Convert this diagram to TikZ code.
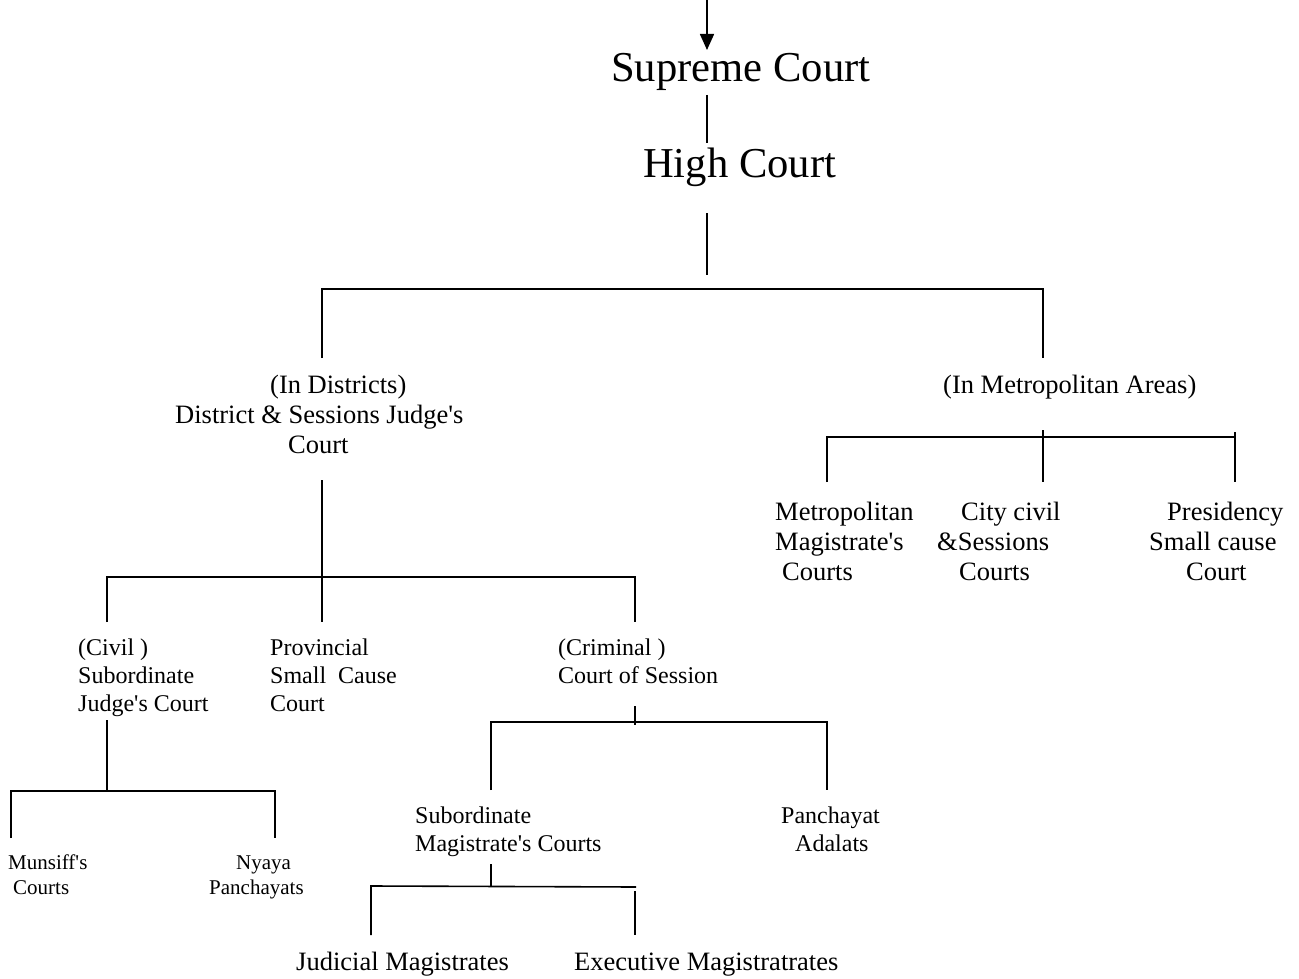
\documentclass[tikz,border=0pt]{standalone}
\usepackage{fontspec}
\setmainfont{Liberation Serif}
\usetikzlibrary{arrows.meta}
\newcommand{\apos}{\textquotesingle}
\begin{document}
\begin{tikzpicture}[x=1pt,y=-1pt,
  conn/.style={line width=1.6pt, line cap=butt},
  lbl/.style={inner sep=0pt, anchor=base west},
  big/.style={lbl, font=\fontsize{42.6}{50}\selectfont},
  txt/.style={lbl, font=\fontsize{26.5}{30}\selectfont},
  mid/.style={lbl, font=\fontsize{24}{28}\selectfont},
  sml/.style={lbl, font=\fontsize{21}{25}\selectfont}]
\useasboundingbox (0,0) rectangle (1299,979);

% ---- texts ----
\node[big] (sc) at (611,82) {Supreme Court};
\node[big] (hc) at (643,178) {High Court};

\node[txt] (d1) at (270,393) {(In Districts)};
\node[txt] (d2) at (175,423) {District \& Sessions Judge\apos s};
\node[txt] (d3) at (288,453) {Court};

\node[txt] (ma) at (943,393) {(In Metropolitan Areas)};

\node[txt] (m1) at (775,520) {Metropolitan};
\node[txt] (m2) at (775,550) {Magistrate\apos s};
\node[txt] (m3) at (782,580) {Courts};

\node[txt] (c1) at (961,520) {City civil};
\node[txt] (c2) at (937,550) {\&Sessions};
\node[txt] (c3) at (959,580) {Courts};

\node[txt] (p1) at (1167,520) {Presidency};
\node[txt] (p2) at (1149,550) {Small cause};
\node[txt] (p3) at (1186,580) {Court};

\node[mid] (s1) at (78,655) {(Civil )};
\node[mid] (s2) at (78,683) {Subordinate};
\node[mid] (s3) at (78,711) {Judge\apos s Court};

\node[mid] (v1) at (270,655) {Provincial};
\node[mid] (v2) at (270,683) {Small\ \ Cause};
\node[mid] (v3) at (270,711) {Court};

\node[mid] (k1) at (558,655) {(Criminal )};
\node[mid] (k2) at (558,683) {Court of Session};

\node[mid] (g1) at (415,823) {Subordinate};
\node[mid] (g2) at (415,851) {Magistrate\apos s Courts};

\node[mid] (a1) at (781,823) {Panchayat};
\node[mid] (a2) at (795,851) {Adalats};

\node[sml] (u1) at (8,869) {Munsiff\apos s};
\node[sml] (u2) at (13,894) {Courts};

\node[sml] (n1) at (236,869) {Nyaya};
\node[sml] (n2) at (209,894) {Panchayats};

\node[txt] (j1) at (296,970) {Judicial Magistrates};
\node[txt] (e1) at (574,970) {Executive Magistratrates};

% ---- connector points ----
\coordinate (a0) at (707,0);
\coordinate (a9) at (707,50);
\coordinate (b0) at (707,95);
\coordinate (b1) at (707,143);
\coordinate (h0) at (707,213);
\coordinate (h1) at (707,275);

\coordinate (tL) at (322,289);
\coordinate (tR) at (1043,289);
\coordinate (tLb) at (322,358);
\coordinate (tRb) at (1043,358);

\coordinate (dT) at (322,480);
\coordinate (dB) at (322,622);
\coordinate (dL) at (107,577);
\coordinate (dR) at (635,577);
\coordinate (dLb) at (107,622);
\coordinate (dRb) at (635,622);

\coordinate (mT) at (1043,430);
\coordinate (mB) at (1043,482);
\coordinate (mL) at (827,437);
\coordinate (mR) at (1235,437);
\coordinate (mRt) at (1235,432);
\coordinate (mLb) at (827,482);
\coordinate (mRb) at (1235,482);

\coordinate (sT) at (107,720);
\coordinate (sM) at (107,791);
\coordinate (sL) at (11,791);
\coordinate (sR) at (275,791);
\coordinate (sLb) at (11,838);
\coordinate (sRb) at (275,838);

\coordinate (kT) at (635,706);
\coordinate (kB) at (635,725);
\coordinate (kL) at (491,722);
\coordinate (kR) at (827,722);
\coordinate (kLb) at (491,790);
\coordinate (kRb) at (827,790);

\coordinate (gT) at (491,864);
\coordinate (gM) at (491,887);
\coordinate (gL) at (371,886);
\coordinate (gR) at (636,887);
\coordinate (gLb) at (371,935);
\coordinate (gRt) at (635,891);
\coordinate (gRb) at (635,935);

% ---- connectors ----
\draw[conn, -{Triangle[length=16pt,width=14pt]}] (a0) -- (a9);
\draw[conn] (b0) -- (b1);
\draw[conn] (h0) -- (h1);

\draw[conn] (tLb) -- (tL) -- (tR) -- (tRb);

\draw[conn] (dT) -- (dB);
\draw[conn] (dLb) -- (dL) -- (dR) -- (dRb);

\draw[conn] (mT) -- (mB);
\draw[conn] (mLb) -- (mL) -- (mR);
\draw[conn] (mRt) -- (mRb);

\draw[conn] (sT) -- (sM);
\draw[conn] (sLb) -- (sL) -- (sR) -- (sRb);

\draw[conn] (kT) -- (kB);
\draw[conn] (kLb) -- (kL) -- (kR) -- (kRb);

\draw[conn] (gT) -- (gM);
\draw[conn] (gLb) -- (gL) -- (gR);
\draw[conn] (gRt) -- (gRb);
\end{tikzpicture}
\end{document}
